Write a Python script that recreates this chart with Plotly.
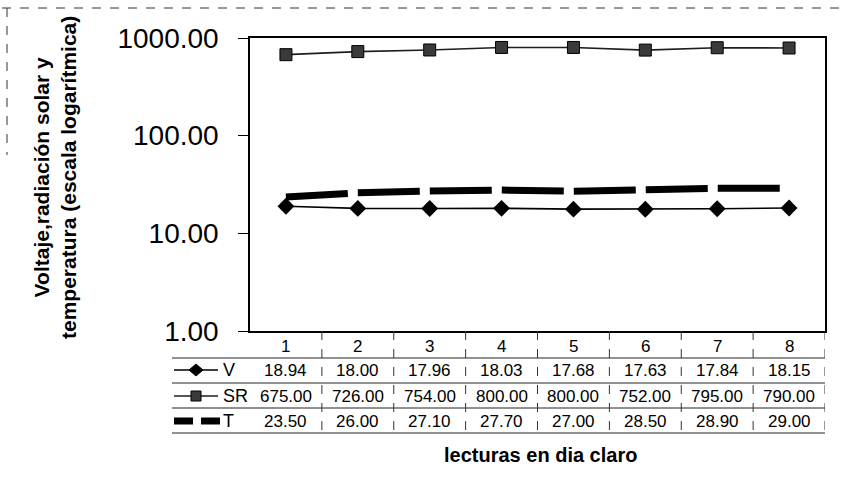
import plotly.graph_objects as go

# Readings on a clear day
categories = ["1", "2", "3", "4", "5", "6", "7", "8"]
voltage = [18.94, 18.00, 17.96, 18.03, 17.68, 17.63, 17.84, 18.15]
solar_rad = [675.00, 726.00, 754.00, 800.00, 800.00, 752.00, 795.00, 790.00]
temperature = [23.50, 26.00, 27.10, 27.70, 27.00, 28.50, 28.90, 29.00]
series_names = ["V", "SR", "T"]
y_tick_vals = [1, 10, 100, 1000]

W, H = 843, 481
ML, MR, MT, MB = 250, 18, 38, 150
PW, PH = W - ML - MR, H - MT - MB
FONT = "Arial, Liberation Sans, sans-serif"
xpos = list(range(1, len(categories) + 1))


def PX(px):
    """page pixel x -> paper x"""
    return (px - ML) / PW


def PY(py):
    """page pixel y -> paper y"""
    return (H - MB - py) / PH


def text(x, y, s, size, xref="paper", xanchor="center", angle=0, bold=False):
    return dict(x=x, y=y, xref=xref, yref="paper", text=f"<b>{s}</b>" if bold else s,
                showarrow=False, xanchor=xanchor, yanchor="middle", textangle=angle,
                font=dict(family=FONT, size=size, color="black"))


fig = go.Figure()

line_styles = {
    "V": dict(color="black", width=1.6),
    "SR": dict(color="#1e1e1e", width=1.6),
    "T": dict(color="black", width=7, dash="62px,10px"),
}
marker_styles = {
    "V": dict(symbol="diamond", size=13, color="black"),
    "SR": dict(symbol="square", size=12, color="#3a3a3a", line=dict(color="black", width=1)),
    "T": dict(size=1, opacity=0),
}

for name, vals in zip(series_names, [voltage, solar_rad, temperature]):
    fig.add_trace(go.Scatter(x=xpos, y=vals, mode="lines+markers", name=name,
                             line=line_styles[name], marker=marker_styles[name],
                             showlegend=False))

annotations = []
shapes = []

# Data table below the plot
row_y = {"cat": 346, "V": 370, "SR": 396, "T": 421}
key_x0, key_x1 = 174, 218

for xi, c in zip(xpos, categories):
    annotations.append(text(xi, PY(row_y["cat"]), c, 17, xref="x"))

for name, vals in zip(series_names, [voltage, solar_rad, temperature]):
    yk = row_y[name]
    # row key
    if name == "T":
        shapes.append(dict(type="line", xref="paper", yref="paper",
                           x0=PX(key_x0), x1=PX(key_x0 + 19), y0=PY(yk), y1=PY(yk),
                           line=dict(color="black", width=7)))
        shapes.append(dict(type="line", xref="paper", yref="paper",
                           x0=PX(key_x0 + 27), x1=PX(key_x1 + 2), y0=PY(yk), y1=PY(yk),
                           line=dict(color="black", width=7)))
    else:
        shapes.append(dict(type="line", xref="paper", yref="paper",
                           x0=PX(key_x0), x1=PX(key_x1), y0=PY(yk), y1=PY(yk),
                           line=dict(color=line_styles[name]["color"], width=1.5)))
        cx = (key_x0 + key_x1) / 2
        if name == "V":
            path = (f"M {PX(cx - 7)} {PY(yk)} L {PX(cx)} {PY(yk - 6)} "
                    f"L {PX(cx + 7)} {PY(yk)} L {PX(cx)} {PY(yk + 6)} Z")
            shapes.append(dict(type="path", xref="paper", yref="paper", path=path,
                               fillcolor="black", line=dict(color="black", width=1)))
        else:
            shapes.append(dict(type="rect", xref="paper", yref="paper",
                               x0=PX(cx - 5), x1=PX(cx + 5), y0=PY(yk - 5), y1=PY(yk + 5),
                               fillcolor="#3a3a3a", line=dict(color="black", width=1)))
    annotations.append(text(PX(key_x1 + 3), PY(yk), name, 18, xanchor="left"))
    for xi, v in zip(xpos, vals):
        annotations.append(text(xi, PY(yk), f"{v:.2f}", 17, xref="x"))

# Table grid
for yl in [358, 383, 408, 433]:
    shapes.append(dict(type="line", xref="paper", yref="paper", x0=PX(172), x1=1,
                       y0=PY(yl), y1=PY(yl), line=dict(color="#222222", width=1)))
for xb in [1.5, 2.5, 3.5, 4.5, 5.5, 6.5, 7.5, 8.5]:
    shapes.append(dict(type="line", xref="x", yref="paper", x0=xb, x1=xb,
                       y0=0, y1=PY(433), line=dict(color="#333333", width=1, dash="dash")))

# Outer chart frame fragments
shapes.append(dict(type="line", xref="paper", yref="paper", x0=PX(2), x1=PX(843),
                   y0=PY(8), y1=PY(8), line=dict(color="#333333", width=1, dash="dash")))
shapes.append(dict(type="line", xref="paper", yref="paper", x0=PX(7), x1=PX(7),
                   y0=PY(8), y1=PY(155), line=dict(color="#333333", width=1, dash="dash")))

# Axis titles
annotations.append(text(PX(55), PY(178),
                        "Voltaje,radiación solar y<br>temperatura (escala logarítmica)",
                        21, angle=-90, bold=True))
annotations.append(text(PX(540), PY(455), "lecturas en dia claro", 20, bold=True))

fig.update_layout(
    width=W, height=H,
    margin=dict(l=ML, r=MR, t=MT, b=MB),
    paper_bgcolor="white", plot_bgcolor="white",
    xaxis=dict(range=[0.5, 8.5], showticklabels=False, ticks="", showgrid=False,
               zeroline=False, showline=True, linecolor="black", linewidth=1.5, mirror=True),
    yaxis=dict(type="log", range=[0, 3], tickvals=y_tick_vals,
               ticktext=[f"{v:.2f}" for v in y_tick_vals],
               ticks="outside", ticklen=10, tickcolor="black", ticklabelstandoff=14,
               showgrid=False, zeroline=False, showline=True, linecolor="black",
               linewidth=1.5, mirror=True,
               tickfont=dict(family=FONT, size=28, color="black")),
    annotations=annotations,
    shapes=shapes,
)

fig.write_html("out.html")
